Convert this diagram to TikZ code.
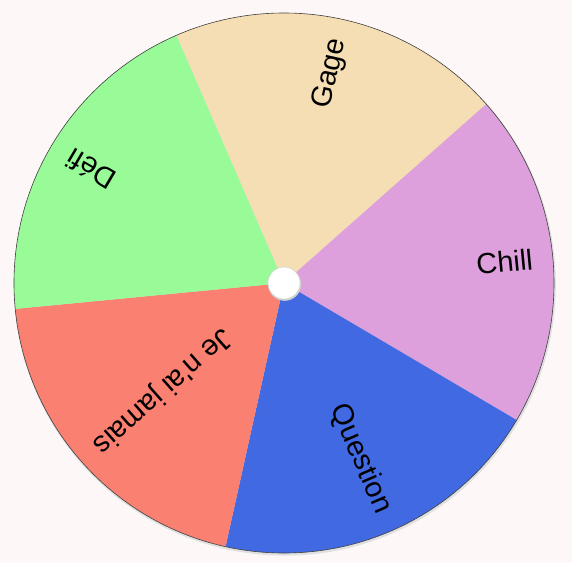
\documentclass[tikz,border=0pt]{standalone}
\usepackage{fontspec}
\setmainfont{Liberation Sans}[Ligatures=TeXOff]
\definecolor{bg}{RGB}{253,248,247}
\definecolor{wheatc}{RGB}{245,222,179}
\definecolor{plumc}{RGB}{221,160,221}
\definecolor{bluec}{RGB}{65,105,225}
\definecolor{salmonc}{RGB}{250,128,114}
\definecolor{greenc}{RGB}{152,251,152}
\begin{document}
\begin{tikzpicture}[x=1pt,y=1pt,
  seglabel/.style={anchor=east, inner sep=0pt, font=\fontsize{29}{29}\selectfont, text=black}]
\fill[bg] (-284,-280) rectangle (288,283);
\useasboundingbox (-284,-280) rectangle (288,283);
\coordinate (c) at (0,0);
% shadow of wheel
\fill[black!12] (0.8,-1.6) circle[radius=271];
\foreach \a/\col/\lab/\nm in {41.5/wheatc/Gage/gage, -30.5/plumc/Chill/chill, -102.5/bluec/Question/question, -174.5/salmonc/Je n'ai jamais/jenai, 113.5/greenc/Défi/defi}{
  \fill[\col] (c) -- (\a:270) arc[start angle=\a, end angle=\a+72, radius=270] -- cycle;
}
\foreach \a/\lab/\nm in {41.5/Gage/gage, -30.5/Chill/chill, -102.5/Question/question, -174.5/Je n'ai jamais/jenai, 113.5/Défi/defi}{
  \node[seglabel, rotate=\a+36] (\nm) at (\a+36:250) {\lab};
}
\draw[black!75, line width=0.6pt] (c) circle[radius=270];
% center hub
\fill[black!18] (0.6,-1.2) circle[radius=16.6];
\node[circle, fill=white, draw=black!20, line width=0.4pt, minimum size=32pt, inner sep=0pt] (hub) at (c) {};
\end{tikzpicture}
\end{document}
